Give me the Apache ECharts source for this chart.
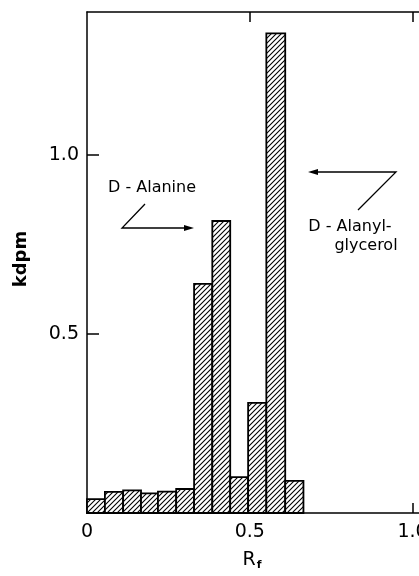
<!DOCTYPE html>
<html>
<head>
<meta charset="utf-8">
<script src="https://cdn.jsdelivr.net/npm/echarts@6/dist/echarts.min.js"></script>
<style>
  html, body { margin: 0; padding: 0; background: #fff; }
  #chart { width: 419px; height: 576px; }
</style>
</head>
<body>
<div id="chart"></div>
<script>
// bin edges (Rf) and counts (kdpm)
const binStart = [0, 0.055, 0.111, 0.166, 0.218, 0.274, 0.329, 0.385, 0.44, 0.495, 0.551, 0.609]
const binEnd = [0.055, 0.111, 0.166, 0.218, 0.274, 0.329, 0.385, 0.44, 0.495, 0.551, 0.609, 0.665]
const kdpm = [0.039, 0.059, 0.063, 0.055, 0.06, 0.067, 0.64, 0.816, 0.10, 0.308, 1.34, 0.09]
const xTicks = [0, 0.5, 1.0]
const yTicks = [0.5, 1.0]

const FONT = '"DejaVu Sans", sans-serif'

// diagonal hatch
const hatch = document.createElement('canvas')
hatch.width = 5
hatch.height = 5
const hc = hatch.getContext('2d')
hc.fillStyle = '#fff'
hc.fillRect(0, 0, 5, 5)
hc.strokeStyle = '#000'
hc.lineWidth = 1.1
hc.beginPath()
hc.moveTo(-1, 6); hc.lineTo(6, -1)
hc.moveTo(-1, 1); hc.lineTo(1, -1)
hc.moveTo(4, 6); hc.lineTo(6, 4)
hc.stroke()

const chart = echarts.init(document.getElementById('chart'))

// the plot runs past the right edge of the picture, so cut it at ~1.02
const axisCommon = {
    type: 'value',
    min: 0,
    max: 1.02,
    interval: 0.5,
    axisLine: { show: true, lineStyle: { color: '#000', width: 1.5 } },
    axisTick: {
        show: true,
        inside: true,
        length: 10,
        customValues: [0.5, 1.0],
        lineStyle: { color: '#000', width: 1.5 }
    },
    splitLine: { show: false }
}

const option = {
    animation: false,
    grid: {
        left: 87,
        top: 12,
        right: 0,
        height: 501,
        containLabel: false,
        outerBoundsMode: 'none'
    },
    xAxis: [
        Object.assign({}, axisCommon, {
            position: 'bottom',
            axisLabel: {
                color: '#000',
                fontFamily: FONT,
                fontSize: 19,
                margin: 10,
                customValues: xTicks,
                formatter: function (v) {
                    return v === 0 ? '0' : v.toFixed(1)
                }
            }
        }),
        Object.assign({}, axisCommon, {
            position: 'top',
            axisLabel: { show: false }
        })
    ],
    yAxis: {
        type: 'value',
        min: 0,
        max: 1.4,
        interval: 0.5,
        axisLine: { show: true, lineStyle: { color: '#000', width: 1.5 } },
        axisTick: { show: true, inside: true, length: 12, customValues: yTicks, lineStyle: { color: '#000', width: 1.5 } },
        splitLine: { show: false },
        axisLabel: {
            color: '#000',
            fontFamily: FONT,
            fontSize: 19,
            margin: 8,
            customValues: yTicks,
            formatter: function (v) {
                return v.toFixed(1)
            }
        }
    },
    series: [{
        type: 'custom',
        xAxisIndex: 0,
        data: kdpm.map((v, i) => [binStart[i], binEnd[i], v]),
        renderItem: function (params, api) {
            const p0 = api.coord([api.value(0), 0])
            const p1 = api.coord([api.value(1), api.value(2)])
            return {
                type: 'rect',
                shape: { x: p0[0], y: p1[1], width: p1[0] - p0[0], height: p0[1] - p1[1] },
                style: { fill: { image: hatch, repeat: 'repeat' }, stroke: '#000', lineWidth: 1.8 }
            }
        }
    }],
    graphic: [
        {
            type: 'text', x: 21, y: 259, rotation: Math.PI / 2,
            style: { text: 'kdpm', font: 'bold 18px ' + FONT, fill: '#000', align: 'center', verticalAlign: 'middle' }
        },
        {
            type: 'text', x: 252, y: 560,
            style: {
                text: 'R{s|f}', fill: '#000', align: 'center', verticalAlign: 'middle',
                font: '19px ' + FONT,
                rich: { s: { font: 'bold 11px ' + FONT, padding: [10, 0, 0, 1] } }
            }
        },
        {
            type: 'text', x: 152, y: 188,
            style: { text: 'D - Alanine', font: '16px ' + FONT, fill: '#000', align: 'center', verticalAlign: 'middle' }
        },
        {
            type: 'polyline',
            shape: { points: [[145, 204], [122, 228], [190, 228]] },
            style: { stroke: '#000', lineWidth: 1.3, fill: null }
        },
        {
            type: 'polygon',
            shape: { points: [[194, 228], [184, 225], [184, 231]] },
            style: { fill: '#000' }
        },
        {
            type: 'text', x: 350, y: 227,
            style: { text: 'D - Alanyl-', font: '16px ' + FONT, fill: '#000', align: 'center', verticalAlign: 'middle' }
        },
        {
            type: 'text', x: 366, y: 246,
            style: { text: 'glycerol', font: '16px ' + FONT, fill: '#000', align: 'center', verticalAlign: 'middle' }
        },
        {
            type: 'polyline',
            shape: { points: [[358, 210], [396, 172], [312, 172]] },
            style: { stroke: '#000', lineWidth: 1.3, fill: null }
        },
        {
            type: 'polygon',
            shape: { points: [[308, 172], [318, 169], [318, 175]] },
            style: { fill: '#000' }
        }
    ]
}

chart.setOption(option)
</script>
</body>
</html>
